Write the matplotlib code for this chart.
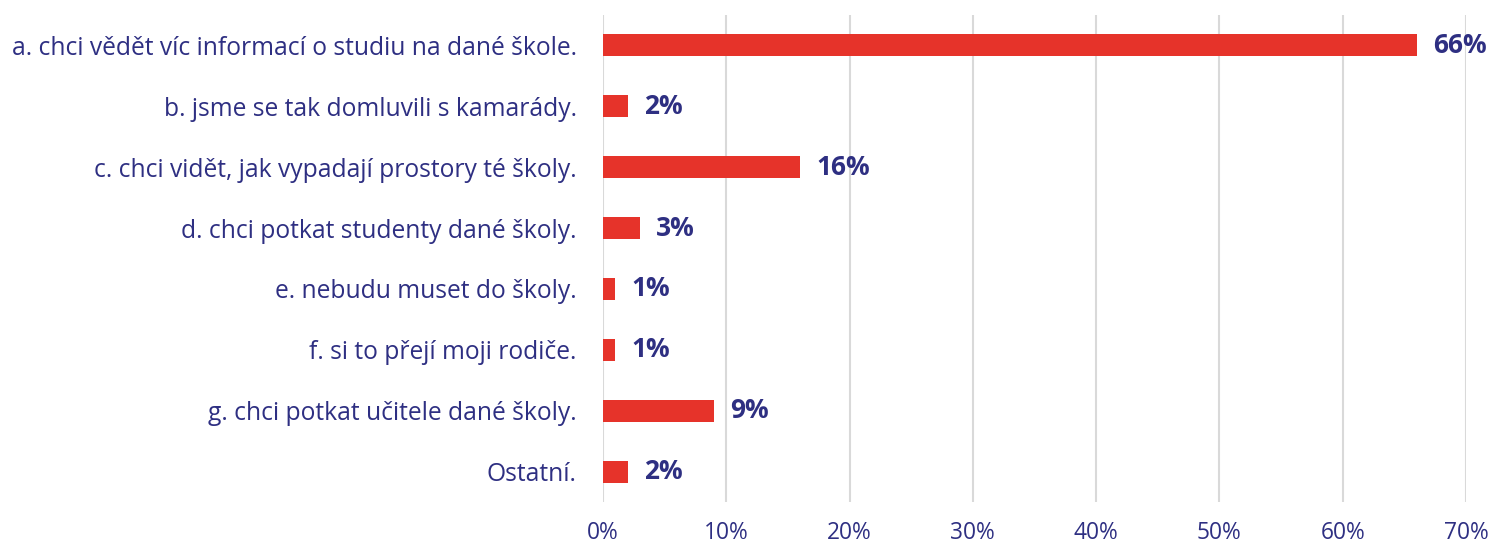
import matplotlib
matplotlib.use("Agg")
import matplotlib.pyplot as plt
from matplotlib.ticker import FuncFormatter

categories = [
    "a. chci vědět víc informací o studiu na dané škole.",
    "b. jsme se tak domluvili s kamarády.",
    "c. chci vidět, jak vypadají prostory té školy.",
    "d. chci potkat studenty dané školy.",
    "e. nebudu muset do školy.",
    "f. si to přejí moji rodiče.",
    "g. chci potkat učitele dané školy.",
    "Ostatní.",
]
values = [66, 2, 16, 3, 1, 1, 9, 2]

RED = "#E6332A"
NAVY = "#2E2F82"
GRID = "#D9D9D9"

plt.rcParams['font.family'] = ['Open Sans', 'DejaVu Sans']

fig = plt.figure(figsize=(14.91, 5.45), dpi=100)
ax = fig.add_axes([0.4044, 0.0789, 0.5788, 0.8936])

y = list(range(len(categories)))
ax.barh(y, values, height=0.36, color=RED, zorder=3)
for yi, v in zip(y, values):
    ax.text(v + 1.3, yi, f"{v}%", va="center", ha="left", fontsize=19,
            fontweight="bold", color=NAVY, zorder=4)

ax.set_xlim(0, 70)
ax.set_ylim(len(categories) - 0.5, -0.5)
ax.set_xticks(range(0, 71, 10))
ax.xaxis.set_major_formatter(FuncFormatter(lambda x, p: f"{int(x)}%"))
ax.set_yticks(y)
ax.set_yticklabels(categories, fontsize=17.7)
ax.tick_params(axis="both", length=0, colors=NAVY)
ax.tick_params(axis="x", labelsize=16.4, pad=14)
ax.tick_params(axis="y", pad=19)
ax.grid(axis="x", color=GRID, linewidth=1.5, zorder=0)
for s in ax.spines.values():
    s.set_visible(False)

fig.savefig("out.png", dpi=100)
